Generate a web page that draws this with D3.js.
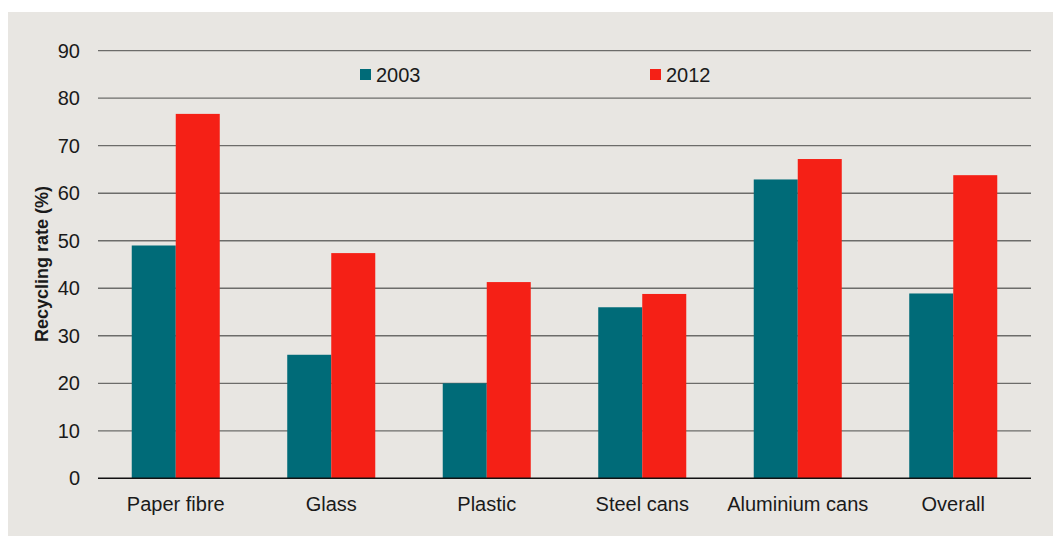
<!DOCTYPE html>
<html>
<head>
<meta charset="utf-8">
<script src="https://cdn.jsdelivr.net/npm/d3@7"></script>
<style>
  body { margin: 0; background: #fff; }
  text { font-family: "Liberation Sans", Arial, sans-serif; fill: #1a1a1a; }
</style>
</head>
<body>
<div id="chartholder"></div>
<script>
// data
var categories = ["Paper fibre", "Glass", "Plastic", "Steel cans", "Aluminium cans", "Overall"];
var series = ["2003", "2012"];
var values2003 = [49, 26, 20, 36, 62.9, 38.9];
var values2012 = [76.7, 47.4, 41.3, 38.8, 67.2, 63.8];
var yTicks = [0, 10, 20, 30, 40, 50, 60, 70, 80, 90];
var colors = ["#006b78", "#f52016"];

var svg = d3.select("#chartholder")
  .append("svg")
  .attr("width", 1053)
  .attr("height", 536);

// grey panel
svg.append("rect")
  .attr("x", 8).attr("y", 12)
  .attr("width", 1045).attr("height", 524)
  .attr("fill", "#e8e6e2");

var margin = {top: 50.7, left: 98, right: 22},
    width = 1053 - margin.left - margin.right,
    height = 478.3 - margin.top;

var g = svg.append("g")
  .attr("transform", "translate(" + margin.left + "," + margin.top + ")");

var x = d3.scaleBand().domain(categories).range([0, width])
  .paddingInner(0.434).paddingOuter(0.217);
var xs = d3.scaleBand().domain(series).range([0, x.bandwidth()]);
var y = d3.scaleLinear().domain([0, 90]).range([height, 0]);

// gridlines
g.selectAll(".grid")
  .data(yTicks.filter(function(d) { return d > 0; }))
  .enter().append("line")
  .attr("x1", 0).attr("x2", width)
  .attr("y1", function(d) { return y(d); })
  .attr("y2", function(d) { return y(d); })
  .attr("stroke", "#6c6c6a")
  .attr("stroke-width", 1.3);

// y tick labels
g.selectAll(".ylab")
  .data(yTicks)
  .enter().append("text")
  .attr("x", -18)
  .attr("y", function(d) { return y(d); })
  .attr("dy", "0.36em")
  .attr("text-anchor", "end")
  .attr("font-size", 20)
  .text(function(d) { return d; });

// bars
var table = categories.map(function(c, i) {
  return {category: c, vals: [values2003[i], values2012[i]]};
});
var groups = g.selectAll(".grp")
  .data(table)
  .enter().append("g")
  .attr("transform", function(d) { return "translate(" + x(d.category) + ",0)"; });

groups.selectAll("rect")
  .data(function(d) { return d.vals.map(function(v, j) { return {s: series[j], v: v, j: j}; }); })
  .enter().append("rect")
  .attr("x", function(d) { return xs(d.s); })
  .attr("width", xs.bandwidth())
  .attr("y", function(d) { return y(d.v); })
  .attr("height", function(d) { return height - y(d.v); })
  .attr("fill", function(d) { return colors[d.j]; });

// baseline
g.append("line")
  .attr("x1", 0).attr("x2", width)
  .attr("y1", height).attr("y2", height)
  .attr("stroke", "#111").attr("stroke-width", 1.5);

// x labels
g.selectAll(".xlab")
  .data(categories)
  .enter().append("text")
  .attr("x", function(d) { return x(d) + x.bandwidth() / 2; })
  .attr("y", height + 33)
  .attr("text-anchor", "middle")
  .attr("font-size", 20)
  .text(function(d) { return d; });

// y title
svg.append("text")
  .attr("transform", "translate(48,264) rotate(-90)")
  .attr("text-anchor", "middle")
  .attr("font-size", 18)
  .attr("font-weight", "bold")
  .text("Recycling rate (%)");

// legend
var legendX = [360, 650];
var legend = svg.selectAll(".leg")
  .data(series)
  .enter().append("g")
  .attr("transform", function(d, i) { return "translate(" + legendX[i] + ",69)"; });
legend.append("rect")
  .attr("width", 11).attr("height", 11)
  .attr("fill", function(d, i) { return colors[i]; });
legend.append("text")
  .attr("x", 16).attr("y", 13)
  .attr("font-size", 20)
  .text(function(d) { return d; });
</script>
</body>
</html>
